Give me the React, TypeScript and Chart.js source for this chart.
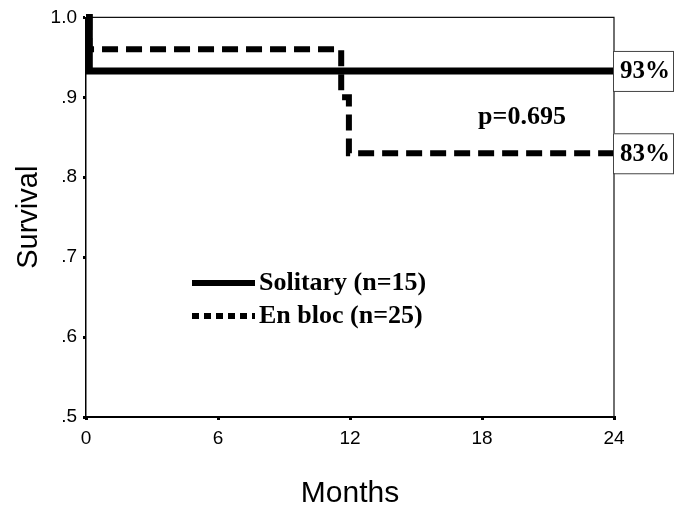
import React, { useEffect, useRef } from "react";
import { Chart, registerables } from "chart.js";

Chart.register(...registerables);

// ---- data ----
const xTicks = [0, 6, 12, 18, 24];
const yTicks = [0.5, 0.6, 0.7, 0.8, 0.9, 1.0];
const yTickLabels = [".5", ".6", ".7", ".8", ".9", "1.0"];
const solitaryMonths = [0, 0.15, 24];
const solitarySurvival = [1.0, 0.933, 0.933];
const enBlocMonths = [0, 0.15, 11.6, 11.95, 24];
const enBlocSurvival = [1.0, 0.96, 0.9, 0.83, 0.83];
const seriesNames = ["Solitary (n=15)", "En bloc (n=25)"];
const endLabels = ["93%", "83%"];
const pValueText = "p=0.695";
const xTitle = "Months";
const yTitle = "Survival";

const SANS = "'Liberation Sans', Arial, sans-serif";
const SERIF = "'Liberation Serif', 'Times New Roman', serif";

const toPoints = (xs: number[], ys: number[]) => xs.map((x, i) => ({ x, y: ys[i] }));

const framePlugin = {
  id: "frame",
  beforeDatasetsDraw(chart: any) {
    const { ctx, chartArea: a } = chart;
    ctx.save();
    ctx.strokeStyle = "#111";
    ctx.lineWidth = 1.2;
    ctx.beginPath();
    ctx.moveTo(a.left, a.top);
    ctx.lineTo(a.right, a.top);
    ctx.lineTo(a.right, a.bottom);
    ctx.stroke();
    ctx.restore();
  },
};

const overlayPlugin = {
  id: "overlay",
  afterDraw(chart: any) {
    const { ctx, scales } = chart;
    const y = scales.y;
    ctx.save();
    // legend
    const lx0 = 192, lx1 = 255, ly = [283, 316];
    ctx.strokeStyle = "#000";
    ctx.lineWidth = 6;
    ctx.setLineDash([]);
    ctx.beginPath();
    ctx.moveTo(lx0, ly[0]);
    ctx.lineTo(lx1, ly[0]);
    ctx.stroke();
    ctx.setLineDash([7, 5]);
    ctx.beginPath();
    ctx.moveTo(lx0, ly[1]);
    ctx.lineTo(lx1, ly[1]);
    ctx.stroke();
    ctx.setLineDash([]);
    ctx.fillStyle = "#000";
    ctx.font = `bold 26px ${SERIF}`;
    ctx.textAlign = "left";
    ctx.textBaseline = "middle";
    ctx.fillText(seriesNames[0], 259, ly[0]);
    ctx.fillText(seriesNames[1], 259, ly[1]);
    // p value
    ctx.textAlign = "center";
    ctx.fillText(pValueText, 522, 117);
    // end labels
    const lastVals = [solitarySurvival[solitarySurvival.length - 1], enBlocSurvival[enBlocSurvival.length - 1]];
    ctx.font = `bold 25px ${SERIF}`;
    lastVals.forEach((v, i) => {
      const py = y.getPixelForValue(v);
      const bx = 613, bw = 60, bh = 40;
      ctx.fillStyle = "#fff";
      ctx.fillRect(bx, py - bh / 2, bw, bh);
      ctx.strokeStyle = "#444";
      ctx.lineWidth = 1;
      ctx.strokeRect(bx + 0.5, py - bh / 2 + 0.5, bw, bh);
      ctx.fillStyle = "#000";
      ctx.textAlign = "left";
      ctx.fillText(endLabels[i], 620, py + 1);
    });
    ctx.restore();
  },
};

export default function App() {
  const ref = useRef<HTMLCanvasElement | null>(null);
  useEffect(() => {
    document.body.style.margin = "0";
    const canvas = ref.current!;
    const chart = new Chart(canvas, {
      type: "line",
      data: {
        datasets: [
          {
            label: seriesNames[0],
            data: toPoints(solitaryMonths, solitarySurvival),
            borderColor: "#000",
            borderWidth: 7,
            pointRadius: 0,
            stepped: true,
            clip: false,
          } as any,
          {
            label: seriesNames[1],
            data: toPoints(enBlocMonths, enBlocSurvival),
            borderColor: "#000",
            borderWidth: 6,
            borderDash: [16, 8],
            pointRadius: 0,
            stepped: true,
            clip: false,
          } as any,
        ],
      },
      options: {
        responsive: false,
        animation: false,
        devicePixelRatio: 1,
        layout: { padding: { left: 0, top: 15, right: 62, bottom: 0 } },
        plugins: { legend: { display: false }, tooltip: { enabled: false } },
        scales: {
          x: {
            type: "linear",
            min: 0,
            max: 24,
            afterBuildTicks: (s: any) => {
              s.ticks = xTicks.map((v) => ({ value: v }));
            },
            afterFit: (s: any) => {
              s.height = 99;
            },
            ticks: {
              font: { family: SANS, size: 19 },
              color: "#000",
              padding: 7,
              maxRotation: 0,
              callback: (v: any) => String(v),
            },
            grid: { drawOnChartArea: false, tickLength: 3, lineWidth: 3, color: "#000" },
            border: { color: "#000", width: 2 },
            title: {
              display: true,
              text: xTitle,
              color: "#000",
              font: { family: SANS, size: 30 },
              padding: { top: 0, bottom: 4 },
            },
          },
          y: {
            type: "linear",
            min: 0.5,
            max: 1.0,
            afterBuildTicks: (s: any) => {
              s.ticks = yTicks.map((v) => ({ value: v }));
            },
            afterFit: (s: any) => {
              s.width = 86;
            },
            ticks: {
              font: { family: SANS, size: 19 },
              color: "#000",
              padding: 6,
              callback: (v: any) => {
                const i = yTicks.findIndex((t) => Math.abs(t - v) < 1e-6);
                return i >= 0 ? yTickLabels[i] : "";
              },
            },
            grid: { drawOnChartArea: false, tickLength: 3, lineWidth: 3, color: "#000" },
            border: { color: "#000", width: 1.5 },
            title: {
              display: true,
              text: yTitle,
              color: "#000",
              font: { family: SANS, size: 29 },
              padding: { top: 12, bottom: 0 },
            },
          },
        },
      },
      plugins: [framePlugin, overlayPlugin],
    });
    return () => chart.destroy();
  }, []);
  return (
    <div style={{ width: 676, height: 516, background: "#fff" }}>
      <canvas ref={ref} width={676} height={516} style={{ display: "block" }} />
    </div>
  );
}
